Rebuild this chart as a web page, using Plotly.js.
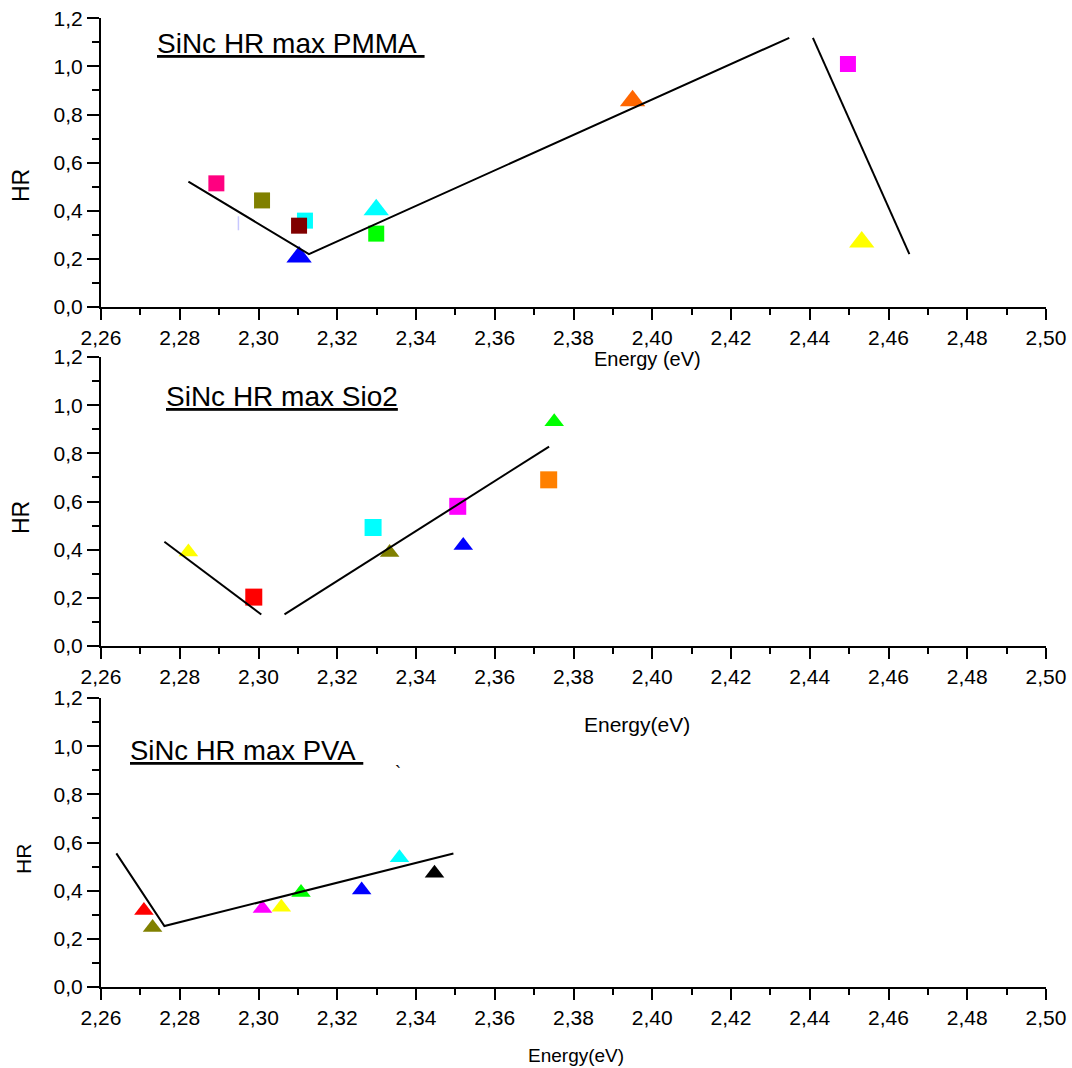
<!DOCTYPE html>
<html><head><meta charset="utf-8">
<script src="https://cdn.plot.ly/plotly-3.0.1.min.js"></script>
<style>html,body{margin:0;padding:0;background:#fff}</style>
</head><body>
<div id="chart" style="width:1072px;height:1068px"></div>
<script>
// ---------- DATA ----------
// Panel 1: PMMA
const pmmaEnergy = [2.2949, 2.2893, 2.3009, 2.3118, 2.3103, 2.3103, 2.3299, 2.3299, 2.3950, 2.4497, 2.4532];
const pmmaHR     = [0.348, 0.514, 0.443, 0.359, 0.338, 0.208, 0.404, 0.305, 0.857, 1.010, 0.270];
const pmmaShape  = ['bar', 'square', 'square', 'square', 'square', 'triangle', 'triangle', 'square', 'triangle', 'square', 'triangle'];
const pmmaColor  = ['#C8C8FF', '#FF0080', '#808000', '#00FFFF', '#800000', '#0000FF', '#00FFFF', '#00FF00', '#FF6600', '#FF00FF', '#FFFF00'];
const pmmaFitAEnergy = [2.2822, 2.3128, 2.4348];
const pmmaFitAHR     = [0.521, 0.220, 1.119];
const pmmaFitBEnergy = [2.4408, 2.4653];
const pmmaFitBHR     = [1.119, 0.220];

// Panel 2: SiO2
const sio2Energy = [2.2822, 2.2988, 2.3291, 2.3333, 2.3506, 2.3520, 2.3737, 2.3751];
const sio2HR     = [0.390, 0.203, 0.492, 0.388, 0.580, 0.417, 0.690, 0.931];
const sio2Shape  = ['triangle', 'square', 'square', 'triangle', 'square', 'triangle', 'square', 'triangle'];
const sio2Color  = ['#FFFF00', '#FF0000', '#00FFFF', '#808000', '#FF00FF', '#0000FF', '#FF8000', '#00FF00'];
const sio2FitAEnergy = [2.2761, 2.3007];
const sio2FitAHR     = [0.433, 0.131];
const sio2FitBEnergy = [2.3066, 2.3738];
const sio2FitBHR     = [0.131, 0.828];

// Panel 3: PVA
const pvaEnergy = [2.2709, 2.2731, 2.3010, 2.3058, 2.3108, 2.3262, 2.3358, 2.3447];
const pvaHR     = [0.318, 0.247, 0.326, 0.331, 0.392, 0.403, 0.537, 0.472];
const pvaShape  = ['triangle', 'triangle', 'triangle', 'triangle', 'triangle', 'triangle', 'triangle', 'triangle'];
const pvaColor  = ['#FF0000', '#808000', '#FF00FF', '#FFFF00', '#00FF00', '#0000FF', '#00FFFF', '#000000'];
const pvaFitEnergy = [2.2639, 2.2761, 2.3495];
const pvaFitHR     = [0.555, 0.253, 0.554];

const xTickStart = 2.26, xTickStep = 0.02, xRange = [2.26, 2.50];
const yTickStep = 0.2, yRange = [0, 1.2];

// ---------- STYLE ----------
const W = 1072, H = 1068;
const FONT = 'Liberation Sans, Arial, sans-serif';
const symMap = {square: 'square', triangle: 'triangle-up', bar: 'line-ns'};

function markerTrace(xs, ys, shapes, colors, xa, ya, sqSize, triSize) {
  return {
    type: 'scatter', mode: 'markers', x: xs, y: ys, xaxis: xa, yaxis: ya,
    cliponaxis: false, hoverinfo: 'skip',
    marker: {
      opacity: 1,
      symbol: shapes.map(s => symMap[s]),
      size: shapes.map(s => s === 'triangle' ? triSize : (s === 'bar' ? 10 : sqSize)),
      color: colors,
      line: {width: shapes.map(s => s === 'bar' ? 1.5 : 0), color: colors}
    }
  };
}
function lineTrace(xs, ys, xa, ya) {
  return {type: 'scatter', mode: 'lines', x: xs, y: ys, xaxis: xa, yaxis: ya,
    line: {color: '#000', width: 2}, hoverinfo: 'skip', cliponaxis: false};
}

const traces = [
  markerTrace(pmmaEnergy, pmmaHR, pmmaShape, pmmaColor, 'x', 'y', 16, 22),
  lineTrace(pmmaFitAEnergy, pmmaFitAHR, 'x', 'y'),
  lineTrace(pmmaFitBEnergy, pmmaFitBHR, 'x', 'y'),
  markerTrace(sio2Energy, sio2HR, sio2Shape, sio2Color, 'x2', 'y2', 17, 17),
  lineTrace(sio2FitAEnergy, sio2FitAHR, 'x2', 'y2'),
  lineTrace(sio2FitBEnergy, sio2FitBHR, 'x2', 'y2'),
  markerTrace(pvaEnergy, pvaHR, pvaShape, pvaColor, 'x3', 'y3', 17, 17),
  lineTrace(pvaFitEnergy, pvaFitHR, 'x3', 'y3')
];

const xDom = [101 / W, 1046 / W];
function py(px) { return 1 - px / H; }
function xAxis(anchor) {
  return {
    domain: xDom, anchor: anchor, range: xRange, tick0: xTickStart, dtick: xTickStep,
    tickformat: '.2f', showline: true, linecolor: '#000', linewidth: 2,
    ticks: 'outside', ticklen: 11, tickwidth: 2, tickcolor: '#000',
    showgrid: false, zeroline: false, fixedrange: true,
    tickfont: {family: FONT, size: 21, color: '#000'},
    minor: {ticks: 'outside', ticklen: 6, tickwidth: 2, tickcolor: '#000', dtick: xTickStep / 2, showgrid: false}
  };
}
function yAxis(anchor, top, bottom) {
  return {
    domain: [py(bottom), py(top)], anchor: anchor, range: yRange, tick0: 0, dtick: yTickStep,
    tickformat: '.1f', showline: true, linecolor: '#000', linewidth: 2,
    ticks: 'outside', ticklen: 12, tickwidth: 2, tickcolor: '#000',
    showgrid: false, zeroline: false, fixedrange: true,
    tickfont: {family: FONT, size: 21, color: '#000'},
    minor: {ticks: 'outside', ticklen: 7, tickwidth: 2, tickcolor: '#000', dtick: yTickStep / 2, showgrid: false}
  };
}

function ann(text, xpx, ypx, size, opts) {
  return Object.assign({
    text: text, xref: 'paper', yref: 'paper', x: xpx / W, y: py(ypx),
    showarrow: false, xanchor: 'center', yanchor: 'middle',
    font: {family: FONT, size: size, color: '#000'}
  }, opts || {});
}

const layout = {
  width: W, height: H, margin: {l: 0, r: 0, t: 0, b: 0},
  paper_bgcolor: '#fff', plot_bgcolor: '#fff', showlegend: false,
  separators: ', ',
  xaxis: xAxis('y'), yaxis: yAxis('x', 18.3, 307),
  xaxis2: xAxis('y2'), yaxis2: yAxis('x2', 357, 646),
  xaxis3: xAxis('y3'), yaxis3: yAxis('x3', 698, 987),
  annotations: [
    ann('<u>SiNc HR max PMMA\u00A0</u>', 155, 44, 28, {xanchor: 'left'}),
    ann('<u>SiNc HR max Sio2</u>', 164, 397, 28, {xanchor: 'left'}),
    ann('<u>SiNc HR max PVA\u00A0</u>', 128, 750, 27.5, {xanchor: 'left'}),
    ann('`', 398, 773, 18),
    ann('HR', 21, 186, 23, {textangle: -90}),
    ann('HR', 21, 518, 23, {textangle: -90}),
    ann('HR', 23, 859, 21, {textangle: -90}),
    ann('Energy (eV)', 647, 359, 20),
    ann('Energy(eV)', 637, 724, 21),
    ann('Energy(eV)', 576, 1055, 19)
  ]
};

Plotly.newPlot('chart', traces, layout, {staticPlot: true, displayModeBar: false});
</script>
</body></html>
